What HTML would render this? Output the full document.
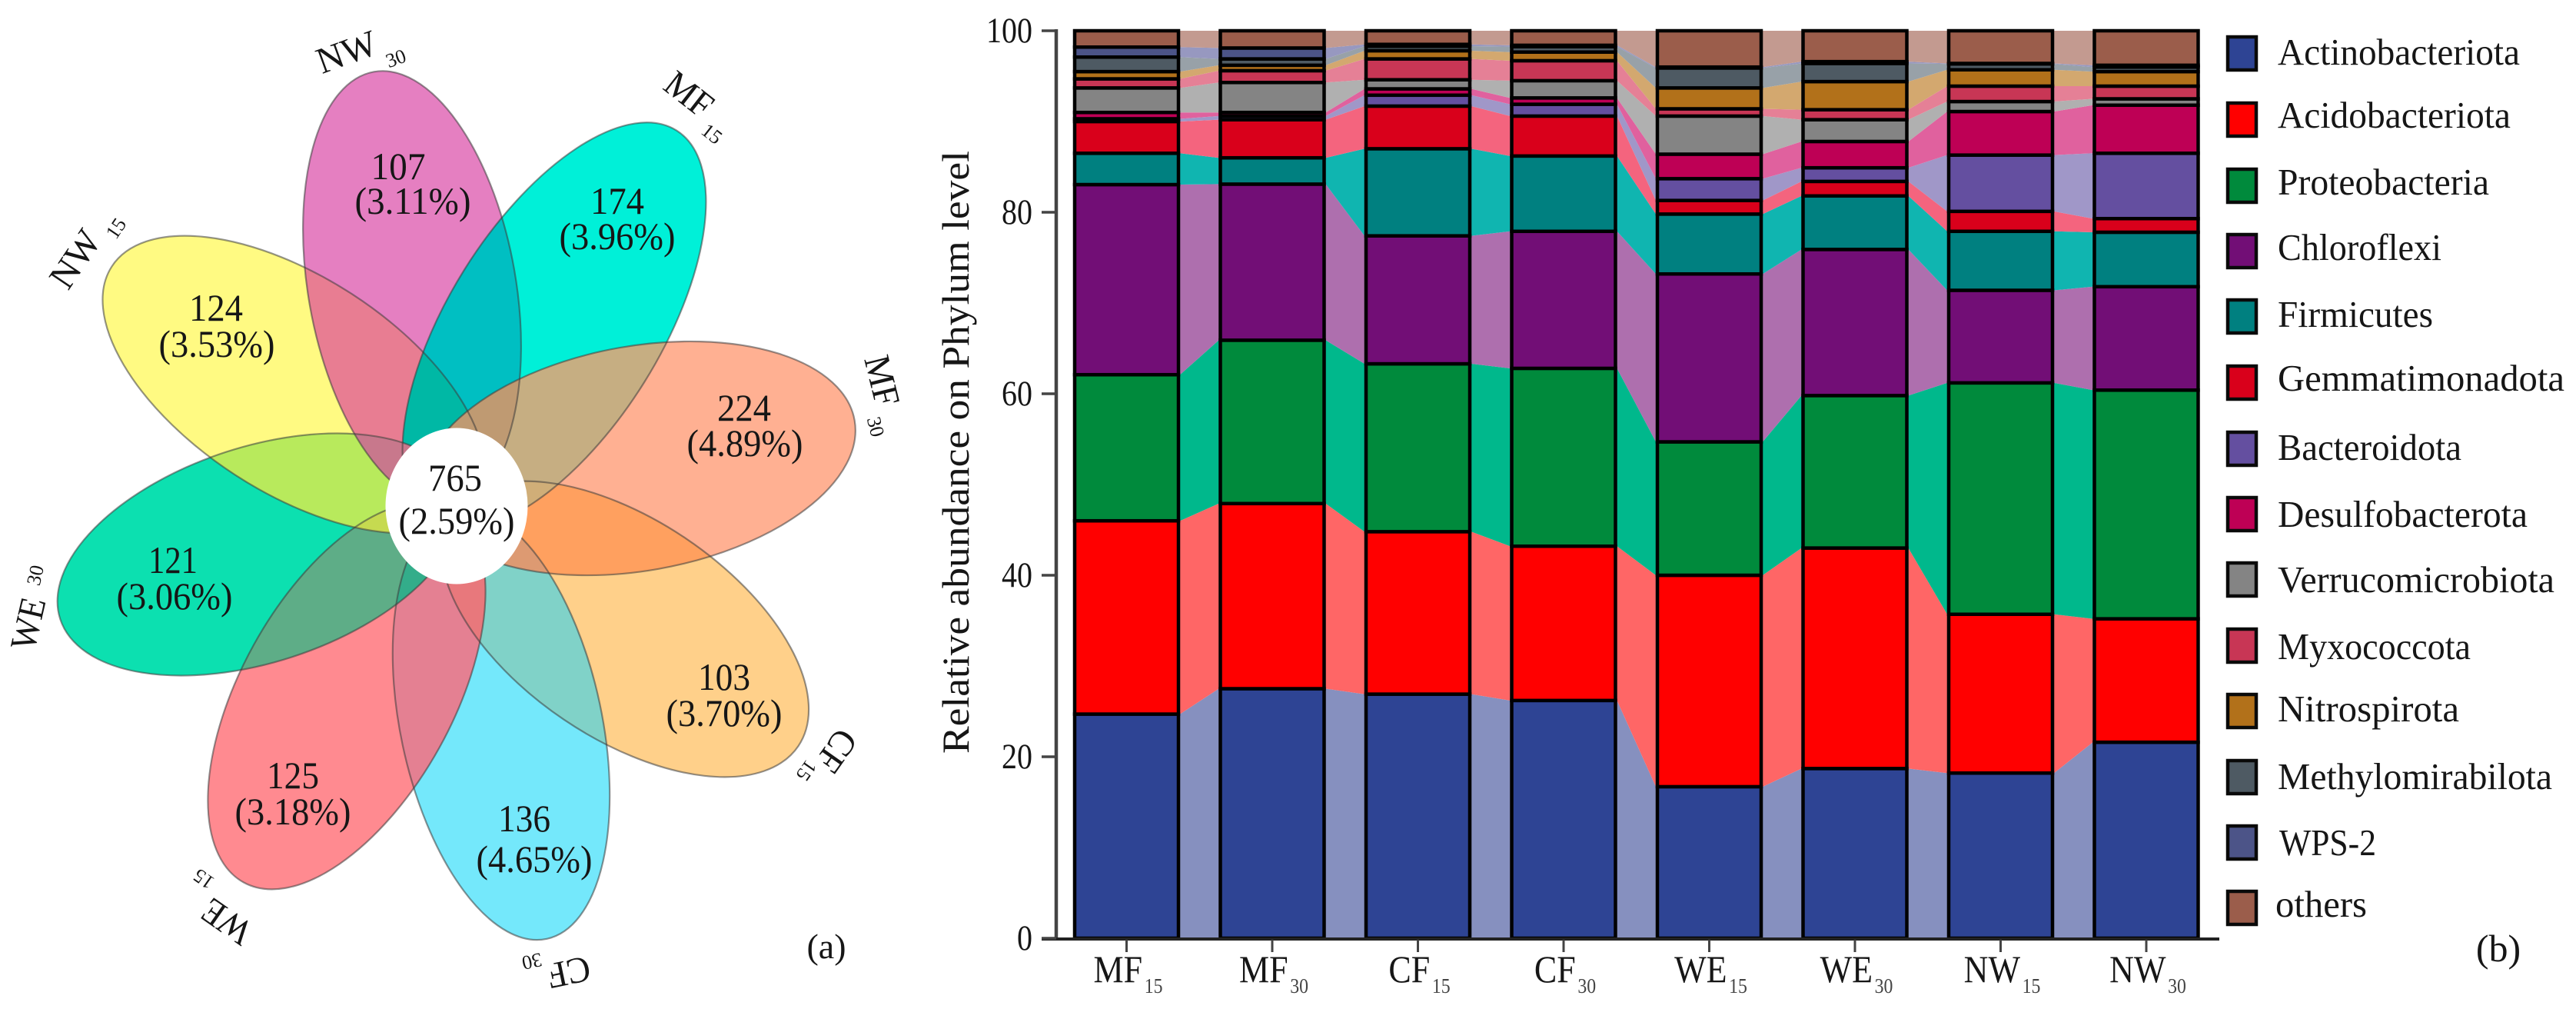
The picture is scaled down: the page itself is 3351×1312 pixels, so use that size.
<!DOCTYPE html>
<html lang="en">
<head>
<meta charset="utf-8">
<title>Venn flower and phylum relative abundance</title>
<style>
html,body{margin:0;padding:0;background:#fff;}
svg{display:block;font-family:"Liberation Serif",serif;}
text{fill:#161616;}
</style>
</head>
<body>
<svg id="figure" xmlns="http://www.w3.org/2000/svg" width="3351" height="1312" viewBox="0 0 3351 1312">
<rect width="3351" height="1312" fill="#fff"/>
<defs id="clip-defs"></defs>
<g id="venn"></g>
<ellipse cx="594" cy="658" rx="92.5" ry="101.5" fill="#fff"/>

<g font-size="50" text-anchor="middle">
<text x="592" y="638" textLength="70" lengthAdjust="spacingAndGlyphs">765</text>
<text x="594" y="694" textLength="151" lengthAdjust="spacingAndGlyphs">(2.59%)</text>
<text x="518" y="233" textLength="71" lengthAdjust="spacingAndGlyphs">107</text>
<text x="537" y="278" textLength="151" lengthAdjust="spacingAndGlyphs">(3.11%)</text>
<text x="281" y="417" textLength="70" lengthAdjust="spacingAndGlyphs">124</text>
<text x="282" y="464" textLength="151" lengthAdjust="spacingAndGlyphs">(3.53%)</text>
<text x="803" y="278" textLength="70" lengthAdjust="spacingAndGlyphs">174</text>
<text x="803" y="324" textLength="151" lengthAdjust="spacingAndGlyphs">(3.96%)</text>
<text x="968" y="547" textLength="70" lengthAdjust="spacingAndGlyphs">224</text>
<text x="969" y="593" textLength="151" lengthAdjust="spacingAndGlyphs">(4.89%)</text>
<text x="942" y="897" textLength="68" lengthAdjust="spacingAndGlyphs">103</text>
<text x="942" y="944" textLength="151" lengthAdjust="spacingAndGlyphs">(3.70%)</text>
<text x="682" y="1081" textLength="68" lengthAdjust="spacingAndGlyphs">136</text>
<text x="695" y="1134" textLength="151" lengthAdjust="spacingAndGlyphs">(4.65%)</text>
<text x="381" y="1025" textLength="68" lengthAdjust="spacingAndGlyphs">125</text>
<text x="381" y="1072" textLength="151" lengthAdjust="spacingAndGlyphs">(3.18%)</text>
<text x="225" y="745" textLength="64" lengthAdjust="spacingAndGlyphs">121</text>
<text x="227" y="792" textLength="151" lengthAdjust="spacingAndGlyphs">(3.06%)</text>
</g>

<g text-anchor="middle" dominant-baseline="central">
<text font-size="48" transform="translate(451,68) rotate(-20)" dominant-baseline="central" textLength="80" lengthAdjust="spacingAndGlyphs">NW</text>
<text font-size="26" transform="translate(515,76) rotate(-20)" dominant-baseline="central">30</text>
<text font-size="48" transform="translate(98,337) rotate(-56)" dominant-baseline="central" textLength="80" lengthAdjust="spacingAndGlyphs">NW</text>
<text font-size="26" transform="translate(151,297) rotate(-56)" dominant-baseline="central">15</text>
<text font-size="48" transform="translate(896,123) rotate(38)" dominant-baseline="central" textLength="66" lengthAdjust="spacingAndGlyphs">MF</text>
<text font-size="26" transform="translate(926,174) rotate(38)" dominant-baseline="central">15</text>
<text font-size="48" transform="translate(1147,495) rotate(76)" dominant-baseline="central" textLength="66" lengthAdjust="spacingAndGlyphs">MF</text>
<text font-size="26" transform="translate(1139,555) rotate(76)" dominant-baseline="central">30</text>
<text font-size="48" transform="translate(1088,976) rotate(125)" dominant-baseline="central" textLength="56" lengthAdjust="spacingAndGlyphs">CF</text>
<text font-size="26" transform="translate(1049,1002) rotate(125)" dominant-baseline="central">15</text>
<text font-size="48" transform="translate(740,1264) rotate(168)" dominant-baseline="central" textLength="56" lengthAdjust="spacingAndGlyphs">CF</text>
<text font-size="26" transform="translate(692,1250) rotate(168)" dominant-baseline="central">30</text>
<text font-size="48" transform="translate(295,1198) rotate(215)" dominant-baseline="central" textLength="68" lengthAdjust="spacingAndGlyphs">WE</text>
<text font-size="26" transform="translate(265,1143) rotate(215)" dominant-baseline="central">15</text>
<text font-size="48" transform="translate(37,811) rotate(-77)" dominant-baseline="central" textLength="68" lengthAdjust="spacingAndGlyphs">WE</text>
<text font-size="26" transform="translate(46,748) rotate(-77)" dominant-baseline="central">30</text>
</g>
<text x="1075" y="1246" font-size="46" text-anchor="middle">(a)</text>

<g id="ribbons"></g>
<g id="bars"></g>
<g id="axes"></g>
<text transform="translate(1260,588) rotate(-90)" font-size="50" text-anchor="middle" textLength="784" lengthAdjust="spacingAndGlyphs">Relative abundance on Phylum level</text>

<g font-size="49" stroke-linejoin="miter">
<g><rect x="2898" y="48" width="37" height="43" fill="#2E4494" stroke="#0a0a0a" stroke-width="4.5"/><text x="2963" y="84" textLength="315" lengthAdjust="spacingAndGlyphs">Actinobacteriota</text></g>
<g><rect x="2898" y="134" width="37" height="43" fill="#FF0000" stroke="#0a0a0a" stroke-width="4.5"/><text x="2963" y="166" textLength="303" lengthAdjust="spacingAndGlyphs">Acidobacteriota</text></g>
<g><rect x="2898" y="220" width="37" height="43" fill="#008A3C" stroke="#0a0a0a" stroke-width="4.5"/><text x="2963" y="253" textLength="275" lengthAdjust="spacingAndGlyphs">Proteobacteria</text></g>
<g><rect x="2898" y="305" width="37" height="43" fill="#720E76" stroke="#0a0a0a" stroke-width="4.5"/><text x="2963" y="338" textLength="213" lengthAdjust="spacingAndGlyphs">Chloroflexi</text></g>
<g><rect x="2898" y="390" width="37" height="43" fill="#008080" stroke="#0a0a0a" stroke-width="4.5"/><text x="2963" y="425" textLength="202" lengthAdjust="spacingAndGlyphs">Firmicutes</text></g>
<g><rect x="2898" y="476" width="37" height="43" fill="#D9001B" stroke="#0a0a0a" stroke-width="4.5"/><text x="2963" y="508" textLength="373" lengthAdjust="spacingAndGlyphs">Gemmatimonadota</text></g>
<g><rect x="2898" y="562" width="37" height="43" fill="#644FA0" stroke="#0a0a0a" stroke-width="4.5"/><text x="2963" y="598" textLength="239" lengthAdjust="spacingAndGlyphs">Bacteroidota</text></g>
<g><rect x="2898" y="647" width="37" height="43" fill="#BE0055" stroke="#0a0a0a" stroke-width="4.5"/><text x="2963" y="685" textLength="325" lengthAdjust="spacingAndGlyphs">Desulfobacterota</text></g>
<g><rect x="2898" y="732" width="37" height="43" fill="#848484" stroke="#0a0a0a" stroke-width="4.5"/><text x="2963" y="770" textLength="360" lengthAdjust="spacingAndGlyphs">Verrucomicrobiota</text></g>
<g><rect x="2898" y="818" width="37" height="43" fill="#C83655" stroke="#0a0a0a" stroke-width="4.5"/><text x="2963" y="857" textLength="251" lengthAdjust="spacingAndGlyphs">Myxococcota</text></g>
<g><rect x="2898" y="903" width="37" height="43" fill="#B2711A" stroke="#0a0a0a" stroke-width="4.5"/><text x="2963" y="938" textLength="236" lengthAdjust="spacingAndGlyphs">Nitrospirota</text></g>
<g><rect x="2898" y="989" width="37" height="43" fill="#4E5A63" stroke="#0a0a0a" stroke-width="4.5"/><text x="2963" y="1026" textLength="357" lengthAdjust="spacingAndGlyphs">Methylomirabilota</text></g>
<g><rect x="2898" y="1074" width="37" height="43" fill="#4C5488" stroke="#0a0a0a" stroke-width="4.5"/><text x="2965" y="1112" textLength="126" lengthAdjust="spacingAndGlyphs">WPS-2</text></g>
<g><rect x="2898" y="1159" width="37" height="43" fill="#9B5D4B" stroke="#0a0a0a" stroke-width="4.5"/><text x="2960" y="1192" textLength="119" lengthAdjust="spacingAndGlyphs">others</text></g>
</g>
<text x="3250" y="1250" font-size="50" text-anchor="middle">(b)</text>
</svg>

<script>
// Chart data (percent per sample)
const categories = ['MF', 'MF', 'CF', 'CF', 'WE', 'WE', 'NW', 'NW'];
const categorySubs = ['15', '30', '15', '30', '15', '30', '15', '30'];
const yTicks = [0, 20, 40, 60, 80, 100];
const actinobacteriota = [24.7, 27.5, 26.9, 26.2, 16.7, 18.7, 18.2, 21.6];
const acidobacteriota = [21.3, 20.4, 17.9, 17.0, 23.3, 24.3, 17.5, 13.6];
const proteobacteria = [16.1, 18.0, 18.5, 19.6, 14.7, 16.8, 25.5, 25.2];
const chloroflexi = [20.95, 17.2, 14.1, 15.1, 18.5, 16.1, 10.2, 11.4];
const firmicutes = [3.45, 2.9, 9.6, 8.3, 6.6, 5.9, 6.5, 6.0];
const gemmatimonadota = [3.5, 4.2, 4.7, 4.4, 1.5, 1.6, 2.2, 1.5];
const bacteroidota = [0.3, 0.4, 1.2, 1.3, 2.4, 1.5, 6.2, 7.2];
const desulfobacterota = [0.7, 0.4, 0.7, 0.7, 2.7, 2.9, 4.8, 5.3];
const verrucomicrobiota = [2.7, 3.3, 1.0, 1.9, 4.2, 2.4, 1.1, 0.7];
const myxococcota = [1.0, 1.3, 2.3, 2.2, 0.8, 1.1, 1.7, 1.4];
const nitrospirota = [0.8, 0.6, 0.9, 0.95, 2.3, 3.1, 1.8, 1.6];
const methylomirabilota = [1.6, 0.7, 0.5, 0.6, 2.2, 2.0, 0.65, 0.5];
const wps2 = [1.1, 1.2, 0.2, 0.15, 0.1, 0.2, 0.05, 0.2];
const others = [1.8, 1.9, 1.5, 1.6, 4.0, 3.4, 3.6, 3.8];

const seriesValues = [actinobacteriota, acidobacteriota, proteobacteria, chloroflexi, firmicutes, gemmatimonadota, bacteroidota, desulfobacterota, verrucomicrobiota, myxococcota, nitrospirota, methylomirabilota, wps2, others];
const seriesKeys = ['actinobacteriota', 'acidobacteriota', 'proteobacteria', 'chloroflexi', 'firmicutes', 'gemmatimonadota', 'bacteroidota', 'desulfobacterota', 'verrucomicrobiota', 'myxococcota', 'nitrospirota', 'methylomirabilota', 'wps-2', 'others'];
const barColors = ['#2E4494', '#FF0000', '#008A3C', '#720E76', '#008080', '#D9001B', '#644FA0', '#BE0055', '#848484', '#C83655', '#B2711A', '#4E5A63', '#4C5488', '#9B5D4B'];
const ribbonColors = ['#8690BF', '#FF6666', '#00B88C', '#AE6FAE', '#10B5B0', '#F4647E', '#A097C8', '#E0619E', '#B0B0B0', '#E58096', '#D3A86F', '#98A1A8', '#9798C0', '#C39A90'];

const NS = 'http://www.w3.org/2000/svg';
function make(tag, attrs, parent) {
  const el = document.createElementNS(NS, tag);
  for (const k in attrs) el.setAttribute(k, attrs[k]);
  parent.appendChild(el);
  return el;
}

// Axis functions
const yScale = v => 1220 - v * 11.8;
const bandLeft = i => 1396 + i * 189.5;
const bandWidth = 139;
const bandCenter = i => bandLeft(i) + bandWidth / 2;

// Cumulative stack per category
const cumulative = categories.map((c, i) => {
  const lows = [];
  let t = 0;
  seriesValues.forEach(s => { lows.push(t); t += s[i]; });
  lows.push(t);
  return lows;
});

const ribbonsG = document.getElementById('ribbons');
const barsG = document.getElementById('bars');

for (let i = 0; i < categories.length - 1; i++) {
  seriesValues.forEach((s, k) => {
    const x0 = bandLeft(i) + bandWidth, x1 = bandLeft(i + 1);
    const pts = [
      [x0, yScale(cumulative[i][k])], [x1, yScale(cumulative[i + 1][k])],
      [x1, yScale(cumulative[i + 1][k + 1])], [x0, yScale(cumulative[i][k + 1])]
    ].map(p => p.join(',')).join(' ');
    const el = make('polygon', { points: pts, fill: ribbonColors[k] }, ribbonsG);
    
    
  });
}

categories.forEach((c, i) => {
  seriesValues.forEach((s, k) => {
    const top = yScale(cumulative[i][k + 1]), bottom = yScale(cumulative[i][k]);
    const el = make('rect', {
      x: bandLeft(i) + 2, y: top, width: bandWidth - 4, height: Math.max(0, bottom - top),
      fill: barColors[k], stroke: '#000', 'stroke-width': 4.5
    }, barsG);
    
    
  });
});

// Axes
const axesG = document.getElementById('axes');
const yLine = make('line', { x1: 1374, x2: 1374, y1: yScale(100) - 2, y2: yScale(0) + 2, stroke: '#444', 'stroke-width': 4.5 }, axesG);


const xLine = make('line', { x1: 1355, x2: 2887, y1: yScale(0) + 1, y2: yScale(0) + 1, stroke: '#222', 'stroke-width': 4 }, axesG);



yTicks.forEach(t => {
  const mark = make('line', { x1: 1355, x2: 1374, y1: yScale(t), y2: yScale(t), stroke: '#444', 'stroke-width': 3.5 }, axesG);
  
  
  const label = make('text', { x: 1343, y: yScale(t) + 15, 'font-size': 47, 'text-anchor': 'end', textLength: String(t).length * 20, lengthAdjust: 'spacingAndGlyphs' }, axesG);
  label.textContent = String(t);
  
  
});

categories.forEach((c, i) => {
  const mark = make('line', { x1: bandCenter(i), x2: bandCenter(i), y1: 1222, y2: 1238, stroke: '#444', 'stroke-width': 3 }, axesG);
  
  
  const label = make('text', { transform: 'translate(' + (bandCenter(i) + 2) + ',1277) scale(0.88,1)', 'font-size': 50, 'text-anchor': 'middle' }, axesG);
  
  
  const main = make('tspan', {}, label);
  main.textContent = c;
  const sub = make('tspan', { 'font-size': 27, dx: 3, dy: 14, fill: '#444' }, label);
  sub.textContent = categorySubs[i];
});

// Venn flower geometry
const petals = [
  { key: 'nw15', cx: 382, cy: 500, a: 282, b: 140, rot: -57, fill: '#FFFA82' },
  { key: 'nw30', cx: 536, cy: 374, a: 285, b: 135, rot: -10, fill: '#E57FC1' },
  { key: 'mf15', cx: 721, cy: 424, a: 300, b: 138, rot: 32, fill: '#00F0D8' },
  { key: 'mf30', cx: 831, cy: 596, a: 285, b: 146, rot: 80, fill: '#FFB092' },
  { key: 'cf15', cx: 813, cy: 818, a: 272, b: 142, rot: 124, fill: '#FFD08A' },
  { key: 'cf30', cx: 652, cy: 942, a: 285, b: 131, rot: 168, fill: '#74E8FB' },
  { key: 'we15', cx: 451, cy: 905, a: 277, b: 138, rot: 209, fill: '#FF8A90' },
  { key: 'we30', cx: 337, cy: 721, a: 272, b: 140, rot: 72, fill: '#0CE0B0' }
];
const adjacentOverlapColors = ['#E87D92', '#00BFC2', '#C6AE82', '#FFA05F', '#80D2C8', '#E48092', '#5EAD87', '#B8EA5C'];
const skipOverlapColors = ['#00B8A5', '#BF9A72', '#D0AE78', '#DD9A72', '#E8787C', '#33AD8A', '#C6DA50', '#C8788C'];

const defs = document.getElementById('clip-defs');
const vennG = document.getElementById('venn');
const ellipseAttrs = p => ({ cx: p.cx, cy: p.cy, rx: p.b, ry: p.a, transform: 'rotate(' + p.rot + ' ' + p.cx + ' ' + p.cy + ')' });

petals.forEach((p, i) => {
  const cp = make('clipPath', { id: 'clip-' + i }, defs);
  make('ellipse', ellipseAttrs(p), cp);
  const el = make('ellipse', Object.assign(ellipseAttrs(p), { fill: p.fill }), vennG);
  
  
});

function overlap(i, j, color, name) {
  const holder = make('g', { 'clip-path': 'url(#clip-' + i + ')' }, vennG);
  
  
  make('ellipse', Object.assign(ellipseAttrs(petals[j]), { fill: color }), holder);
}
petals.forEach((p, i) => overlap(i, (i + 1) % 8, adjacentOverlapColors[i], 'overlap-' + p.key + '-' + petals[(i + 1) % 8].key));
petals.forEach((p, i) => overlap(i, (i + 2) % 8, skipOverlapColors[i], 'overlap-' + p.key + '-' + petals[(i + 2) % 8].key));

petals.forEach(p => {
  const el = make('ellipse', Object.assign(ellipseAttrs(p), { fill: 'none', stroke: 'rgba(60,60,60,0.55)', 'stroke-width': 2.2 }), vennG);
  
  
});
</script>
</body>
</html>
